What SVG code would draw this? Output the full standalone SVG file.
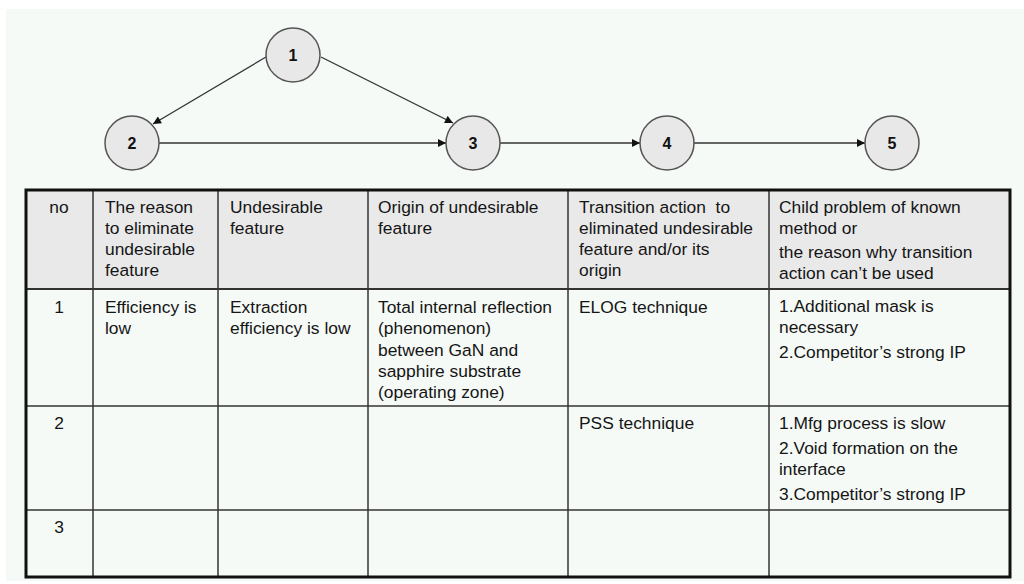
<svg xmlns="http://www.w3.org/2000/svg" width="1024" height="584" viewBox="0 0 1024 584">
<style>
.node circle{fill:#e8e8e8;stroke:#555;stroke-width:1.5}
.node text{font-family:"Liberation Sans",Arial,sans-serif;font-weight:bold;font-size:16px;fill:#111;text-anchor:middle}
.conn line{stroke:#333;stroke-width:1.3;fill:none}
.t{font-family:"Liberation Sans",Arial,sans-serif;font-size:17.4px;fill:#151515}
.c{text-anchor:middle}
.grid{stroke:#333;stroke-width:1.5}
</style>
<defs>
<marker id="ah" viewBox="0 0 10 10" refX="10" refY="5" markerWidth="10" markerHeight="8" markerUnits="userSpaceOnUse" orient="auto">
<path d="M0,0 L10,5 L0,10 z" fill="#111"/>
</marker>
</defs>
<rect x="0" y="0" width="1024" height="584" fill="#ffffff"/>
<rect x="6" y="9" width="1018" height="572" fill="#f5faf7"/>

<g class="conn">
<line x1="266" y1="57" x2="153" y2="124" marker-end="url(#ah)"/>
<line x1="321" y1="57" x2="453" y2="123" marker-end="url(#ah)"/>
<line x1="159" y1="143" x2="446" y2="143" marker-end="url(#ah)"/>
<line x1="500" y1="143" x2="640" y2="143" marker-end="url(#ah)"/>
<line x1="694" y1="143" x2="865" y2="143" marker-end="url(#ah)"/>
</g>

<g id="node1" class="node"><circle cx="293" cy="55" r="27"/><text x="293" y="61">1</text></g>
<g id="node2" class="node"><circle cx="132" cy="143" r="27"/><text x="132" y="149">2</text></g>
<g id="node3" class="node"><circle cx="473" cy="143" r="27"/><text x="473" y="149">3</text></g>
<g id="node4" class="node"><circle cx="667" cy="143" r="27"/><text x="667" y="149">4</text></g>
<g id="node5" class="node"><circle cx="892" cy="143" r="27"/><text x="892" y="149">5</text></g>

<g id="table">
<rect x="26" y="190" width="984" height="99" fill="#e9e9e9"/>
<g class="grid">
<line x1="93" y1="190" x2="93" y2="577"/>
<line x1="218" y1="190" x2="218" y2="577"/>
<line x1="368" y1="190" x2="368" y2="577"/>
<line x1="568" y1="190" x2="568" y2="577"/>
<line x1="769" y1="190" x2="769" y2="577"/>
<line x1="26" y1="289" x2="1010" y2="289" stroke-width="2"/>
<line x1="26" y1="406" x2="1010" y2="406"/>
<line x1="26" y1="510" x2="1010" y2="510"/>
</g>
<rect x="26" y="190" width="984" height="387" fill="none" stroke="#111" stroke-width="3"/>

<text class="t c" x="59" y="213">no</text>
<text class="t" x="105" y="213">The reason</text>
<text class="t" x="105" y="234">to eliminate</text>
<text class="t" x="105" y="255">undesirable</text>
<text class="t" x="105" y="276">feature</text>
<text class="t" x="230" y="213">Undesirable</text>
<text class="t" x="230" y="234">feature</text>
<text class="t" x="378" y="213">Origin of undesirable</text>
<text class="t" x="378" y="234">feature</text>
<text class="t" x="579" y="213" xml:space="preserve">Transition action  to</text>
<text class="t" x="579" y="234">eliminated undesirable</text>
<text class="t" x="579" y="255">feature and/or its</text>
<text class="t" x="579" y="276">origin</text>
<text class="t" x="779" y="213">Child problem of known</text>
<text class="t" x="779" y="234">method or</text>
<text class="t" x="779" y="258">the reason why transition</text>
<text class="t" x="779" y="279">action can’t be used</text>

<text class="t c" x="59" y="313">1</text>
<text class="t" x="105" y="313">Efficiency is</text>
<text class="t" x="105" y="334">low</text>
<text class="t" x="230" y="313">Extraction</text>
<text class="t" x="230" y="334">efficiency is low</text>
<text class="t" x="378" y="313">Total internal reflection</text>
<text class="t" x="378" y="334">(phenomenon)</text>
<text class="t" x="378" y="356">between GaN and</text>
<text class="t" x="378" y="377">sapphire substrate</text>
<text class="t" x="378" y="398">(operating zone)</text>
<text class="t" x="579" y="313">ELOG technique</text>
<text class="t" x="779" y="312">1.Additional mask is</text>
<text class="t" x="779" y="333">necessary</text>
<text class="t" x="779" y="358">2.Competitor’s strong IP</text>

<text class="t c" x="59" y="429">2</text>
<text class="t" x="579" y="429">PSS technique</text>
<text class="t" x="779" y="429">1.Mfg process is slow</text>
<text class="t" x="779" y="454">2.Void formation on the</text>
<text class="t" x="779" y="475">interface</text>
<text class="t" x="779" y="500">3.Competitor’s strong IP</text>

<text class="t c" x="59" y="533">3</text>
</g>
</svg>
